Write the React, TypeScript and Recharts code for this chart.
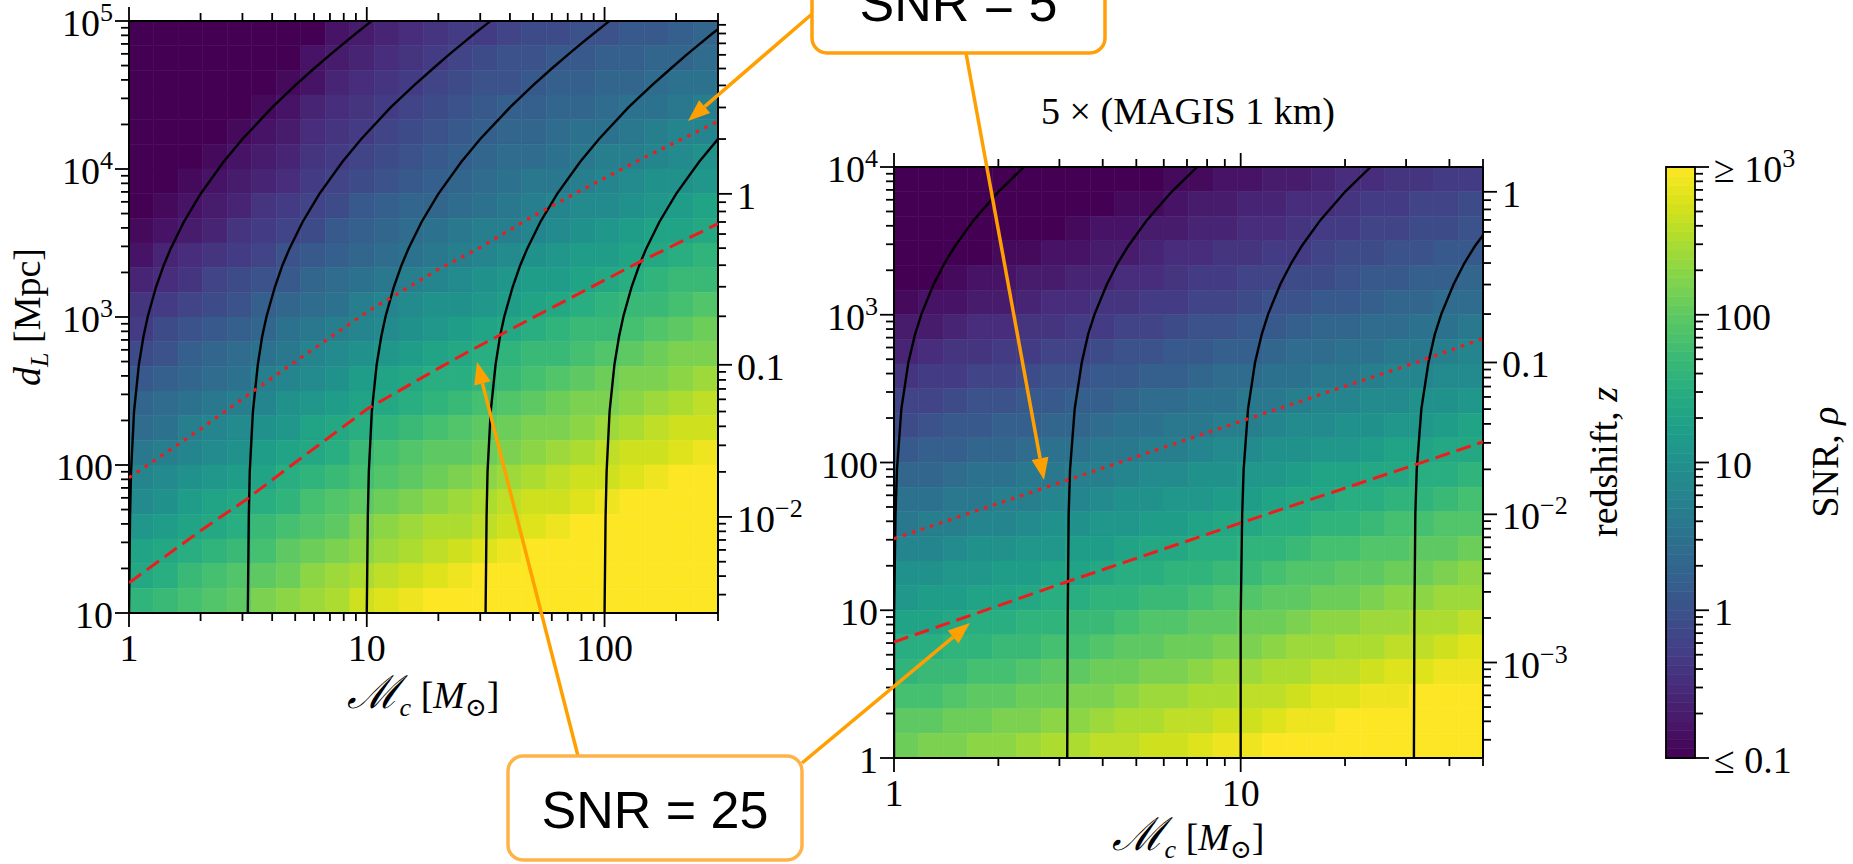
import React from 'react';
import { ComposedChart, XAxis, YAxis, ReferenceArea, Scatter } from 'recharts';

const SERIF = '"Liberation Serif", "DejaVu Serif", serif';
const SANS = '"Liberation Sans", Arial, sans-serif';
const FS = 38;
const SUP = 26;

type Pt = [number, number];
type Lab = [number, string, string?];

// viridis, sampled every 1/16
const viridis = [
  '#440154', '#48186a', '#472d7b', '#424086', '#3b528b', '#33638d', '#2c728e', '#26828e',
  '#21918c', '#1fa088', '#28ae80', '#3fbc73', '#5ec962', '#84d44b', '#addc30', '#d8e219', '#fde725',
];

// ---- left panel: chirp mass 1–300 Msun, luminosity distance 10–1e5 Mpc ----
const leftMassRange: Pt = [1, 300];
const leftDistRange: Pt = [10, 100000];
const leftLogSnr = [
  [-1, -1, -1, -1, -1, -1, -1, -1, -0.8, -0.7, -0.6, -0.5, -0.4, -0.3, -0.3, -0.2, -0.1, -0.1, 0, 0, 0.1, 0.1, 0.2, 0.3],
  [-1, -1, -1, -1, -1, -1, -1, -0.8, -0.7, -0.6, -0.5, -0.4, -0.3, -0.2, -0.1, 0, 0, 0.1, 0.1, 0.2, 0.2, 0.3, 0.3, 0.4],
  [-1, -1, -1, -1, -1, -1, -0.9, -0.8, -0.6, -0.5, -0.4, -0.3, -0.2, -0.1, 0, 0, 0.1, 0.2, 0.2, 0.3, 0.3, 0.4, 0.5, 0.5],
  [-1, -1, -1, -1, -1, -0.9, -0.8, -0.6, -0.5, -0.4, -0.3, -0.2, -0.1, 0, 0.1, 0.2, 0.2, 0.3, 0.3, 0.4, 0.5, 0.5, 0.6, 0.7],
  [-1, -1, -1, -1, -0.9, -0.8, -0.7, -0.5, -0.4, -0.3, -0.2, -0.1, 0, 0.1, 0.2, 0.3, 0.3, 0.4, 0.5, 0.5, 0.6, 0.7, 0.8, 0.8],
  [-1, -1, -1, -0.9, -0.8, -0.7, -0.6, -0.4, -0.3, -0.2, -0.1, 0, 0.1, 0.2, 0.3, 0.4, 0.4, 0.5, 0.6, 0.7, 0.7, 0.8, 0.9, 1.0],
  [-1, -1, -0.9, -0.8, -0.7, -0.6, -0.5, -0.3, -0.2, -0.1, 0, 0.1, 0.2, 0.3, 0.4, 0.5, 0.6, 0.6, 0.7, 0.8, 0.9, 1.0, 1.0, 1.1],
  [-1, -0.9, -0.8, -0.7, -0.6, -0.4, -0.3, -0.2, -0.1, 0.1, 0.2, 0.3, 0.3, 0.4, 0.5, 0.6, 0.7, 0.8, 0.9, 0.9, 1.0, 1.1, 1.2, 1.3],
  [-0.9, -0.8, -0.7, -0.6, -0.4, -0.3, -0.2, -0.1, 0.1, 0.2, 0.3, 0.4, 0.5, 0.6, 0.7, 0.7, 0.8, 0.9, 1.0, 1.1, 1.2, 1.3, 1.3, 1.4],
  [-0.8, -0.6, -0.5, -0.4, -0.3, -0.2, 0.0, 0.1, 0.2, 0.3, 0.4, 0.5, 0.6, 0.7, 0.8, 0.9, 1.0, 1.1, 1.2, 1.2, 1.3, 1.4, 1.5, 1.6],
  [-0.6, -0.5, -0.4, -0.2, -0.1, 0.0, 0.1, 0.3, 0.4, 0.5, 0.6, 0.7, 0.8, 0.9, 1.0, 1.1, 1.2, 1.2, 1.3, 1.4, 1.5, 1.6, 1.7, 1.7],
  [-0.4, -0.3, -0.2, -0.1, 0.0, 0.2, 0.3, 0.4, 0.5, 0.7, 0.8, 0.9, 1.0, 1.0, 1.1, 1.2, 1.3, 1.4, 1.5, 1.6, 1.7, 1.7, 1.8, 1.9],
  [-0.3, -0.1, 0.0, 0.1, 0.2, 0.3, 0.5, 0.6, 0.7, 0.8, 0.9, 1.0, 1.1, 1.2, 1.3, 1.4, 1.5, 1.6, 1.7, 1.7, 1.8, 1.9, 2.0, 2.1],
  [-0.1, 0.0, 0.2, 0.3, 0.4, 0.5, 0.6, 0.8, 0.9, 1.0, 1.1, 1.2, 1.3, 1.4, 1.5, 1.6, 1.7, 1.7, 1.8, 1.9, 2.0, 2.1, 2.2, 2.2],
  [0.1, 0.2, 0.3, 0.4, 0.5, 0.7, 0.8, 0.9, 1.0, 1.2, 1.3, 1.4, 1.5, 1.5, 1.6, 1.7, 1.8, 1.9, 2.0, 2.1, 2.2, 2.2, 2.3, 2.4],
  [0.3, 0.4, 0.5, 0.6, 0.7, 0.8, 1.0, 1.1, 1.2, 1.3, 1.4, 1.5, 1.6, 1.7, 1.8, 1.9, 2.0, 2.1, 2.2, 2.2, 2.3, 2.4, 2.5, 2.6],
  [0.4, 0.5, 0.7, 0.8, 0.9, 1.0, 1.1, 1.3, 1.4, 1.5, 1.6, 1.7, 1.8, 1.9, 2.0, 2.1, 2.2, 2.2, 2.3, 2.4, 2.5, 2.6, 2.7, 2.7],
  [0.6, 0.7, 0.8, 0.9, 1.0, 1.2, 1.3, 1.4, 1.5, 1.7, 1.8, 1.9, 2.0, 2.0, 2.1, 2.2, 2.3, 2.4, 2.5, 2.6, 2.7, 2.7, 2.8, 2.9],
  [0.8, 0.9, 1.0, 1.1, 1.2, 1.3, 1.5, 1.6, 1.7, 1.8, 1.9, 2.0, 2.1, 2.2, 2.3, 2.4, 2.5, 2.6, 2.7, 2.7, 2.8, 2.9, 3.0, 3.0],
  [0.9, 1.0, 1.2, 1.3, 1.4, 1.5, 1.6, 1.8, 1.9, 2.0, 2.1, 2.2, 2.3, 2.4, 2.5, 2.6, 2.7, 2.7, 2.8, 2.9, 3.0, 3.0, 3.0, 3.0],
  [1.1, 1.2, 1.3, 1.4, 1.5, 1.7, 1.8, 1.9, 2.0, 2.2, 2.3, 2.4, 2.5, 2.5, 2.6, 2.7, 2.8, 2.9, 3.0, 3.0, 3.0, 3.0, 3.0, 3.0],
  [1.3, 1.4, 1.5, 1.6, 1.7, 1.8, 2.0, 2.1, 2.2, 2.3, 2.4, 2.5, 2.6, 2.7, 2.8, 2.9, 3.0, 3.0, 3.0, 3.0, 3.0, 3.0, 3.0, 3.0],
  [1.4, 1.5, 1.7, 1.8, 1.9, 2.0, 2.1, 2.3, 2.4, 2.5, 2.6, 2.7, 2.8, 2.9, 3.0, 3.0, 3.0, 3.0, 3.0, 3.0, 3.0, 3.0, 3.0, 3.0],
  [1.6, 1.7, 1.8, 1.9, 2.0, 2.2, 2.3, 2.4, 2.5, 2.7, 2.8, 2.9, 3.0, 3.0, 3.0, 3.0, 3.0, 3.0, 3.0, 3.0, 3.0, 3.0, 3.0, 3.0],
];
// black lines of fixed source mass, [Mc, dL]
const leftTracks: Pt[][] = [
  [[1, 10], [1.01, 44.6], [1.02, 89.9], [1.05, 229.8], [1.1, 475], [1.15, 736], [1.2, 1011], [1.3, 1601], [1.4, 2239], [1.5, 2919], [1.7, 4385], [2, 6794], [2.5, 11197], [3, 15939], [4, 26048], [5, 36711], [6, 47752], [7, 59072], [8, 70611], [9, 82331], [10, 94200], [10.5, 100183]],
  [[3.16, 10], [3.19, 44.6], [3.22, 89.9], [3.32, 229.8], [3.48, 475], [3.63, 736], [3.79, 1011], [4.11, 1601], [4.42, 2239], [4.74, 2919], [5.37, 4385], [6.32, 6794], [7.9, 11197], [9.48, 15939], [12.6, 26048], [15.8, 36711], [19, 47752], [22.1, 59072], [25.3, 70611], [28.4, 82331], [31.6, 94200], [33.2, 100183]],
  [[10, 10], [10.1, 44.6], [10.2, 89.9], [10.5, 229.8], [11, 475], [11.5, 736], [12, 1011], [13, 1601], [14, 2239], [15, 2919], [17, 4385], [20, 6794], [25, 11197], [30, 15939], [40, 26048], [50, 36711], [60, 47752], [70, 59072], [80, 70611], [90, 82331], [100, 94200], [105, 100183]],
  [[31.6, 10], [31.9, 44.6], [32.2, 89.9], [33.2, 229.8], [34.8, 475], [36.3, 736], [37.9, 1011], [41.1, 1601], [44.2, 2239], [47.4, 2919], [53.7, 4385], [63.2, 6794], [79, 11197], [94.8, 15939], [126, 26048], [158, 36711], [190, 47752], [221, 59072], [253, 70611], [284, 82331], [300, 88100]],
  [[100, 10], [101, 44.6], [102, 89.9], [105, 229.8], [110, 475], [115, 736], [120, 1011], [130, 1601], [140, 2239], [150, 2919], [170, 4385], [200, 6794], [250, 11197], [300, 15939]],
];
const leftSnr25: Pt[] = [[1, 16], [2, 36], [3.14, 59], [5, 104], [10, 238], [20, 450], [27.8, 603], [50, 990], [80, 1470], [140, 2350], [300, 4270]];
const leftSnr5: Pt[] = [[1, 82], [2, 175], [3.14, 295], [5, 500], [10, 1080], [20, 2100], [30, 2950], [50, 4800], [80, 7200], [140, 11500], [300, 21000]];
const leftMassTicks = [1, 2, 3, 4, 5, 6, 7, 8, 9, 10, 20, 30, 40, 50, 60, 70, 80, 90, 100, 200, 300];
const leftDistTicks = [10, 20, 30, 40, 50, 60, 70, 80, 90, 100, 200, 300, 400, 500, 600, 700, 800, 900,
  1000, 2000, 3000, 4000, 5000, 6000, 7000, 8000, 9000, 10000, 20000, 30000, 40000, 50000, 60000, 70000, 80000, 90000, 100000];

// ---- right panel: 5 x (MAGIS 1 km), chirp mass 1–50, distance 1–1e4 Mpc ----
const rightMassRange: Pt = [1, 50];
const rightDistRange: Pt = [1, 10000];
const rightLogSnr = [
  [-1, -1, -1, -1, -1, -1, -1, -1, -1, -1, -1.0, -0.9, -0.9, -0.8, -0.8, -0.7, -0.7, -0.6, -0.5, -0.5, -0.4, -0.4, -0.3, -0.3],
  [-1, -1, -1, -1, -1, -1, -1, -1.0, -1.0, -0.9, -0.9, -0.8, -0.7, -0.7, -0.6, -0.6, -0.5, -0.5, -0.4, -0.3, -0.3, -0.2, -0.2, -0.1],
  [-1, -1, -1, -1, -1, -1.0, -1.0, -0.9, -0.8, -0.8, -0.7, -0.7, -0.6, -0.6, -0.5, -0.5, -0.4, -0.3, -0.3, -0.2, -0.2, -0.1, -0.1, 0.0],
  [-1, -1, -1, -1.0, -0.9, -0.9, -0.8, -0.8, -0.7, -0.7, -0.6, -0.5, -0.5, -0.4, -0.4, -0.3, -0.3, -0.2, -0.1, -0.1, 0.0, 0.0, 0.1, 0.1],
  [-1, -1.0, -0.9, -0.8, -0.8, -0.7, -0.7, -0.6, -0.6, -0.5, -0.5, -0.4, -0.3, -0.3, -0.2, -0.2, -0.1, -0.1, 0.0, 0.1, 0.1, 0.2, 0.2, 0.3],
  [-0.9, -0.8, -0.8, -0.7, -0.7, -0.6, -0.5, -0.5, -0.4, -0.4, -0.3, -0.3, -0.2, -0.2, -0.1, 0.0, 0.0, 0.1, 0.1, 0.2, 0.3, 0.3, 0.4, 0.4],
  [-0.7, -0.7, -0.6, -0.5, -0.5, -0.4, -0.4, -0.3, -0.3, -0.2, -0.2, -0.1, 0.0, 0.0, 0.1, 0.1, 0.2, 0.3, 0.3, 0.4, 0.4, 0.5, 0.5, 0.6],
  [-0.6, -0.5, -0.4, -0.4, -0.3, -0.3, -0.2, -0.2, -0.1, 0.0, 0.0, 0.1, 0.1, 0.2, 0.2, 0.3, 0.4, 0.4, 0.5, 0.5, 0.6, 0.6, 0.7, 0.8],
  [-0.4, -0.3, -0.3, -0.2, -0.2, -0.1, 0.0, 0.0, 0.1, 0.1, 0.2, 0.2, 0.3, 0.4, 0.4, 0.5, 0.5, 0.6, 0.6, 0.7, 0.8, 0.8, 0.9, 0.9],
  [-0.2, -0.2, -0.1, 0.0, 0.0, 0.1, 0.1, 0.2, 0.2, 0.3, 0.4, 0.4, 0.5, 0.5, 0.6, 0.6, 0.7, 0.8, 0.8, 0.9, 0.9, 1.0, 1.0, 1.1],
  [-0.1, 0.0, 0.1, 0.1, 0.2, 0.2, 0.3, 0.3, 0.4, 0.5, 0.5, 0.6, 0.6, 0.7, 0.7, 0.8, 0.9, 0.9, 1.0, 1.0, 1.1, 1.1, 1.2, 1.3],
  [0.1, 0.2, 0.2, 0.3, 0.3, 0.4, 0.5, 0.5, 0.6, 0.6, 0.7, 0.7, 0.8, 0.9, 0.9, 1.0, 1.0, 1.1, 1.1, 1.2, 1.3, 1.3, 1.4, 1.4],
  [0.3, 0.3, 0.4, 0.5, 0.5, 0.6, 0.6, 0.7, 0.7, 0.8, 0.9, 0.9, 1.0, 1.0, 1.1, 1.1, 1.2, 1.3, 1.3, 1.4, 1.4, 1.5, 1.5, 1.6],
  [0.5, 0.5, 0.6, 0.6, 0.7, 0.7, 0.8, 0.8, 0.9, 1.0, 1.0, 1.1, 1.1, 1.2, 1.2, 1.3, 1.4, 1.4, 1.5, 1.5, 1.6, 1.6, 1.7, 1.8],
  [0.6, 0.7, 0.7, 0.8, 0.8, 0.9, 1.0, 1.0, 1.1, 1.1, 1.2, 1.2, 1.3, 1.4, 1.4, 1.5, 1.5, 1.6, 1.6, 1.7, 1.8, 1.8, 1.9, 1.9],
  [0.8, 0.8, 0.9, 1.0, 1.0, 1.1, 1.1, 1.2, 1.2, 1.3, 1.4, 1.4, 1.5, 1.5, 1.6, 1.6, 1.7, 1.8, 1.8, 1.9, 1.9, 2.0, 2.0, 2.1],
  [1.0, 1.0, 1.1, 1.1, 1.2, 1.2, 1.3, 1.3, 1.4, 1.5, 1.5, 1.6, 1.6, 1.7, 1.7, 1.8, 1.9, 1.9, 2.0, 2.0, 2.1, 2.1, 2.2, 2.3],
  [1.1, 1.2, 1.2, 1.3, 1.3, 1.4, 1.5, 1.5, 1.6, 1.6, 1.7, 1.7, 1.8, 1.9, 1.9, 2.0, 2.0, 2.1, 2.1, 2.2, 2.3, 2.3, 2.4, 2.4],
  [1.3, 1.3, 1.4, 1.5, 1.5, 1.6, 1.6, 1.7, 1.7, 1.8, 1.9, 1.9, 2.0, 2.0, 2.1, 2.1, 2.2, 2.3, 2.3, 2.4, 2.4, 2.5, 2.5, 2.6],
  [1.5, 1.5, 1.6, 1.6, 1.7, 1.7, 1.8, 1.8, 1.9, 2.0, 2.0, 2.1, 2.1, 2.2, 2.2, 2.3, 2.4, 2.4, 2.5, 2.5, 2.6, 2.6, 2.7, 2.8],
  [1.6, 1.7, 1.7, 1.8, 1.8, 1.9, 2.0, 2.0, 2.1, 2.1, 2.2, 2.2, 2.3, 2.4, 2.4, 2.5, 2.5, 2.6, 2.6, 2.7, 2.8, 2.8, 2.9, 2.9],
  [1.8, 1.8, 1.9, 2.0, 2.0, 2.1, 2.1, 2.2, 2.2, 2.3, 2.4, 2.4, 2.5, 2.5, 2.6, 2.6, 2.7, 2.8, 2.8, 2.9, 2.9, 3.0, 3.0, 3.0],
  [2.0, 2.0, 2.1, 2.1, 2.2, 2.2, 2.3, 2.3, 2.4, 2.5, 2.5, 2.6, 2.6, 2.7, 2.7, 2.8, 2.9, 2.9, 3.0, 3.0, 3.0, 3.0, 3.0, 3.0],
  [2.1, 2.2, 2.2, 2.3, 2.3, 2.4, 2.5, 2.5, 2.6, 2.6, 2.7, 2.7, 2.8, 2.9, 2.9, 3.0, 3.0, 3.0, 3.0, 3.0, 3.0, 3.0, 3.0, 3.0],
];
const rightTracks: Pt[][] = [
  [[1, 1], [1, 8.87], [1.01, 44.6], [1.02, 89.9], [1.05, 229.8], [1.1, 475], [1.15, 736], [1.2, 1011], [1.3, 1601], [1.4, 2239], [1.5, 2919], [1.7, 4385], [2, 6794], [2.37, 10000]],
  [[3.16, 1], [3.17, 8.87], [3.19, 44.6], [3.22, 89.9], [3.32, 229.8], [3.48, 475], [3.63, 736], [3.79, 1011], [4.11, 1601], [4.42, 2239], [4.74, 2919], [5.37, 4385], [6.32, 6794], [7.49, 10000]],
  [[10, 1], [10, 8.87], [10.1, 44.6], [10.2, 89.9], [10.5, 229.8], [11, 475], [11.5, 736], [12, 1011], [13, 1601], [14, 2239], [15, 2919], [17, 4385], [20, 6794], [23.7, 10000]],
  [[31.6, 1], [31.7, 8.87], [31.9, 44.6], [32.2, 89.9], [33.2, 229.8], [34.8, 475], [36.3, 736], [37.9, 1011], [41.1, 1601], [44.2, 2239], [47.4, 2919], [50, 3450]],
];
const rightSnr25: Pt[] = [[1, 6.1], [3.16, 15.6], [10, 39], [31.6, 96], [50, 138]];
const rightSnr5: Pt[] = [[1, 30.5], [3.16, 76], [10, 190], [31.6, 470], [50, 690]];
const rightMassTicks = [1, 2, 3, 4, 5, 6, 7, 8, 9, 10, 20, 30, 40, 50];
const rightDistTicks = [1, 2, 3, 4, 5, 6, 7, 8, 9, 10, 20, 30, 40, 50, 60, 70, 80, 90,
  100, 200, 300, 400, 500, 600, 700, 800, 900, 1000, 2000, 3000, 4000, 5000, 6000, 7000, 8000, 9000, 10000];

// redshift axis: z ticks and the matching luminosity distance in Mpc
const redshiftTicks = [0.0003, 0.0004, 0.0005, 0.0006, 0.0007, 0.0008, 0.0009, 0.001,
  0.002, 0.003, 0.004, 0.005, 0.006, 0.007, 0.008, 0.009, 0.01,
  0.02, 0.03, 0.04, 0.05, 0.06, 0.07, 0.08, 0.09, 0.1,
  0.2, 0.3, 0.4, 0.5, 0.6, 0.7, 0.8, 0.9, 1, 2, 3, 4, 5, 6, 7, 8, 9];
const redshiftDistMpc = [1.328, 1.771, 2.213, 2.656, 3.099, 3.543, 3.986, 4.429,
  8.865, 13.31, 17.76, 22.21, 26.68, 31.15, 35.62, 40.11, 44.6,
  89.87, 135.8, 182.5, 229.8, 277.8, 326.5, 375.8, 425.8, 475.3,
  1011, 1601, 2239, 2919, 3635, 4385, 5163, 5967, 6794, 15939, 26048, 36711, 47752, 59072, 70611, 82331, 94200];

// colour bar
const snrTicks = [0.1, 0.2, 0.3, 0.4, 0.5, 0.6, 0.7, 0.8, 0.9, 1, 2, 3, 4, 5, 6, 7, 8, 9,
  10, 20, 30, 40, 50, 60, 70, 80, 90, 100, 200, 300, 400, 500, 600, 700, 800, 900, 1000];
const snrRange: Pt = [0.1, 1000];

// tick labels: [value, text, superscript]
const massLabels: Lab[] = [[1, '1'], [10, '10'], [100, '100']];
const distLabels: Lab[] = [[1, '1'], [10, '10'], [100, '100'], [1000, '10', '3'], [10000, '10', '4'], [100000, '10', '5']];
const zLabels: Lab[] = [[1, '1'], [0.1, '0.1'], [0.01, '10', '\u22122'], [0.001, '10', '\u22123']];
const snrLabels: Lab[] = [[0.1, '\u2264 0.1'], [1, '1'], [10, '10'], [100, '100'], [1000, '\u2265 10', '3']];

// ---- helpers ----
const hexRgb = (h: string) => [1, 3, 5].map((i) => parseInt(h.slice(i, i + 2), 16));
function viridisAt(t: number) {
  const u = Math.min(1, Math.max(0, t)) * (viridis.length - 1);
  const i = Math.min(viridis.length - 2, Math.floor(u));
  const f = u - i;
  const a = hexRgb(viridis[i]);
  const b = hexRgb(viridis[i + 1]);
  const c = a.map((v, k) => Math.round(v + (b[k] - v) * f));
  return `rgb(${c[0]},${c[1]},${c[2]})`;
}
const snrColor = (logSnr: number) => viridisAt((logSnr + 1) / 4);

const near = (a: number, b: number) => Math.abs(a - b) <= 1e-6 * Math.abs(b);
const isDecade = (v: number) => Math.abs(Math.log10(v) - Math.round(Math.log10(v))) < 1e-6;
const frame = { stroke: '#000', strokeWidth: 2 };
const noShape = () => <g />;

function tickText(lab: Lab, x: number, y: number, anchor: string, baseline: string) {
  return (
    <text x={x} y={y} textAnchor={anchor} dominantBaseline={baseline} fontFamily={SERIF} fontSize={FS} fill="#000">
      {lab[1]}
      {lab[2] ? <tspan dy={-11} fontSize={SUP}>{lab[2]}</tspan> : null}
    </text>
  );
}

function makeTick(side: string, labels: Lab[] | null, keyOf?: (v: number) => number) {
  return (p: any) => {
    const { x, y, payload } = p;
    const v = keyOf ? keyOf(payload.value) : payload.value;
    const len = isDecade(v) ? 14 : 8;
    const lab = labels ? labels.find((l) => near(v, l[0])) : undefined;
    const ln = { stroke: '#000', strokeWidth: 1.8 };
    if (side === 'bottom')
      return <g><line x1={x} y1={y} x2={x} y2={y + len} {...ln} />{lab && tickText(lab, x, y + 48, 'middle', 'auto')}</g>;
    if (side === 'top') return <g><line x1={x} y1={y} x2={x} y2={y - len} {...ln} /></g>;
    if (side === 'left')
      return <g><line x1={x} y1={y} x2={x - len} y2={y} {...ln} />{lab && tickText(lab, x - 16, y + 2, 'end', 'central')}</g>;
    return <g><line x1={x} y1={y} x2={x + len} y2={y} {...ln} />{lab && tickText(lab, x + 19, y + 2, 'start', 'central')}</g>;
  };
}

const toPts = (a: Pt[]) => a.map(([x, y]) => ({ x, y }));

function Panel(props: any) {
  const { left, top, width, height, margin, leftW, rightW, bottomH, massRange, distRange, logSnr, massTicks, distTicks, tracks, snr25, snr5 } = props;
  const nRows = logSnr.length;
  const nCols = logSnr[0].length;
  const mRatio = massRange[1] / massRange[0];
  const dRatio = distRange[1] / distRange[0];
  const cells: any[] = [];
  logSnr.forEach((row: number[], r: number) =>
    row.forEach((v: number, c: number) => {
      const col = snrColor(v);
      cells.push(
        <ReferenceArea
          key={`c${r}-${c}`}
          xAxisId="b"
          yAxisId="l"
          x1={massRange[0] * Math.pow(mRatio, c / nCols)}
          x2={massRange[0] * Math.pow(mRatio, (c + 1) / nCols)}
          y1={distRange[1] / Math.pow(dRatio, (r + 1) / nRows)}
          y2={distRange[1] / Math.pow(dRatio, r / nRows)}
          fill={col}
          fillOpacity={1}
          stroke={col}
          strokeWidth={0.6}
          ifOverflow="visible"
        />
      );
    })
  );
  const zDist = redshiftDistMpc.filter((d) => d >= distRange[0] && d <= distRange[1]);
  const zOf = (d: number) => {
    const i = redshiftDistMpc.findIndex((q) => near(d, q));
    return i >= 0 ? redshiftTicks[i] : d;
  };
  return (
    <div style={{ position: 'absolute', left, top }}>
      <ComposedChart width={width} height={height} margin={margin}>
        {cells}
        {tracks.map((t: Pt[], i: number) => (
          <Scatter key={`t${i}`} xAxisId="b" yAxisId="l" data={toPts(t)} fill="#000" line={{ stroke: '#000', strokeWidth: 2.4 }} lineType="joint" shape={noShape} isAnimationActive={false} />
        ))}
        <Scatter xAxisId="b" yAxisId="l" data={toPts(snr25)} fill="#ee1c1c" line={{ stroke: '#ee1c1c', strokeWidth: 3, strokeDasharray: '15 7' }} lineType="joint" shape={noShape} isAnimationActive={false} />
        <Scatter xAxisId="b" yAxisId="l" data={toPts(snr5)} fill="#ee1c1c" line={{ stroke: '#ee1c1c', strokeWidth: 3.2, strokeDasharray: '3.5 6' }} lineType="joint" shape={noShape} isAnimationActive={false} />
        <XAxis xAxisId="b" type="number" dataKey="x" scale="log" domain={massRange} allowDataOverflow ticks={massTicks} interval={0}
          tickSize={0} tickMargin={0} tickLine={false} axisLine={frame} height={bottomH} tick={makeTick('bottom', massLabels)} />
        <XAxis xAxisId="t" orientation="top" type="number" dataKey="x" scale="log" domain={massRange} allowDataOverflow ticks={massTicks} interval={0}
          tickSize={0} tickMargin={0} tickLine={false} axisLine={frame} height={1} tick={makeTick('top', null)} />
        <YAxis yAxisId="l" type="number" dataKey="y" scale="log" domain={distRange} allowDataOverflow ticks={distTicks} interval={0}
          tickSize={0} tickMargin={0} tickLine={false} axisLine={frame} width={leftW} tick={makeTick('left', distLabels)} />
        <YAxis yAxisId="r" orientation="right" type="number" dataKey="y" scale="log" domain={distRange} allowDataOverflow ticks={zDist} interval={0}
          tickSize={0} tickMargin={0} tickLine={false} axisLine={frame} width={rightW} tick={makeTick('right', zLabels, zOf)} />
      </ComposedChart>
    </div>
  );
}

function ColorBar() {
  const n = 64;
  const ratio = snrRange[1] / snrRange[0];
  const bands = Array.from({ length: n }, (_, i) => {
    const col = viridisAt((i + 0.5) / n);
    return (
      <ReferenceArea key={i} xAxisId="cb" yAxisId="cb" x1={0} x2={1}
        y1={snrRange[0] * Math.pow(ratio, i / n)} y2={snrRange[0] * Math.pow(ratio, (i + 1) / n)}
        fill={col} fillOpacity={1} stroke={col} strokeWidth={0.6} ifOverflow="visible" />
    );
  });
  return (
    <div style={{ position: 'absolute', left: 1560, top: 100 }}>
      <ComposedChart width={293} height={700} margin={{ top: 67, right: 8, bottom: 42, left: 106 }}>
        {bands}
        <ReferenceArea xAxisId="cb" yAxisId="cb" x1={0} x2={1} y1={snrRange[0]} y2={snrRange[1]}
          fill="none" fillOpacity={0} stroke="#000" strokeWidth={1.8} ifOverflow="visible" />
        <Scatter xAxisId="cb" yAxisId="cb" data={[{ x: 0, y: 0.1 }, { x: 1, y: 1000 }]} shape={noShape} isAnimationActive={false} />
        <XAxis xAxisId="cb" type="number" dataKey="x" domain={[0, 1]} hide allowDataOverflow />
        <YAxis yAxisId="cb" orientation="right" type="number" dataKey="y" scale="log" domain={snrRange} allowDataOverflow ticks={snrTicks} interval={0}
          tickSize={0} tickMargin={0} tickLine={false} axisLine={false} width={150} tick={makeTick('right', snrLabels)} />
      </ComposedChart>
    </div>
  );
}

// call-out boxes and arrows (pixel positions of the annotation layer)
const callouts = [
  { text: 'SNR = 5', x: 812, y: -51, w: 293, h: 104, stroke: '#ff9f0a' },
  { text: 'SNR = 25', x: 508, y: 756, w: 294, h: 104, stroke: '#ffb347' },
];
const arrows: { from: Pt; to: Pt }[] = [
  { from: [812, 14], to: [688, 121] },
  { from: [966, 53], to: [1044, 480] },
  { from: [578, 756], to: [477, 362] },
  { from: [802, 763], to: [970, 623] },
];

function Arrow({ from, to }: { from: Pt; to: Pt }) {
  const [x1, y1] = from;
  const [x2, y2] = to;
  const L = Math.hypot(x2 - x1, y2 - y1);
  const ux = (x2 - x1) / L;
  const uy = (y2 - y1) / L;
  const hl = 22;
  const hw = 8.5;
  const bx = x2 - ux * hl;
  const by = y2 - uy * hl;
  const pts = `${x2},${y2} ${bx - uy * hw},${by + ux * hw} ${bx + uy * hw},${by - ux * hw}`;
  return (
    <g>
      <line x1={x1} y1={y1} x2={bx} y2={by} stroke="#ffa000" strokeWidth={3.5} />
      <polygon points={pts} fill="#ffa000" />
    </g>
  );
}

function MassLabel({ x, y }: { x: number; y: number }) {
  return (
    <text x={x} y={y} textAnchor="middle" fontFamily={SERIF} fontSize={FS} fill="#000">
      <tspan fontStyle="italic" fontSize={FS * 1.2}>{'\u2133'}</tspan>
      <tspan fontSize={SUP} fontStyle="italic" dy={8}>c</tspan>
      <tspan dy={-8}>{' ['}</tspan>
      <tspan fontStyle="italic">M</tspan>
      <tspan fontSize={SUP} dy={8}>{'\u2299'}</tspan>
      <tspan dy={-8}>]</tspan>
    </text>
  );
}

export default function App() {
  return (
    <div style={{ position: 'absolute', left: 0, top: 0, width: 1853, height: 864, background: '#fff', overflow: 'hidden' }}>
      <Panel
        left={0} top={0} width={830} height={730}
        margin={{ top: 20, right: 42, bottom: 17, left: 0 }}
        leftW={129} rightW={70} bottomH={100}
        massRange={leftMassRange} distRange={leftDistRange} logSnr={leftLogSnr}
        massTicks={leftMassTicks} distTicks={leftDistTicks}
        tracks={leftTracks} snr25={leftSnr25} snr5={leftSnr5}
      />
      <Panel
        left={760} top={120} width={860} height={740}
        margin={{ top: 46, right: 47, bottom: 12, left: 0 }}
        leftW={134} rightW={90} bottomH={90}
        massRange={rightMassRange} distRange={rightDistRange} logSnr={rightLogSnr}
        massTicks={rightMassTicks} distTicks={rightDistTicks}
        tracks={rightTracks} snr25={rightSnr25} snr5={rightSnr5}
      />
      <ColorBar />
      <svg width={1853} height={864} style={{ position: 'absolute', left: 0, top: 0, pointerEvents: 'none' }}>
        <text x={1188} y={124} textAnchor="middle" fontFamily={SERIF} fontSize={38} fill="#000">5 × (MAGIS 1 km)</text>
        <MassLabel x={423} y={708} />
        <MassLabel x={1188} y={850} />
        <text transform="translate(40,317) rotate(-90)" textAnchor="middle" fontFamily={SERIF} fontSize={FS} fill="#000">
          <tspan fontStyle="italic">d</tspan>
          <tspan fontSize={SUP} fontStyle="italic" dy={8}>L</tspan>
          <tspan dy={-8}>{' [Mpc]'}</tspan>
        </text>
        <text transform="translate(1617,462) rotate(-90)" textAnchor="middle" fontFamily={SERIF} fontSize={FS} fill="#000">
          redshift, <tspan fontStyle="italic">z</tspan>
        </text>
        <text transform="translate(1838,462) rotate(-90)" textAnchor="middle" fontFamily={SERIF} fontSize={FS} fill="#000">
          SNR, <tspan fontStyle="italic">ρ</tspan>
        </text>
        {arrows.map((a, i) => <Arrow key={i} from={a.from} to={a.to} />)}
        {callouts.map((c, i) => (
          <g key={i}>
            <rect x={c.x} y={c.y} width={c.w} height={c.h} rx={15} fill="#fff" stroke={c.stroke} strokeWidth={3.5} />
            <text x={c.x + c.w / 2} y={c.y + c.h - 32} textAnchor="middle" fontFamily={SANS} fontSize={52} fill="#000">{c.text}</text>
          </g>
        ))}
      </svg>
    </div>
  );
}
